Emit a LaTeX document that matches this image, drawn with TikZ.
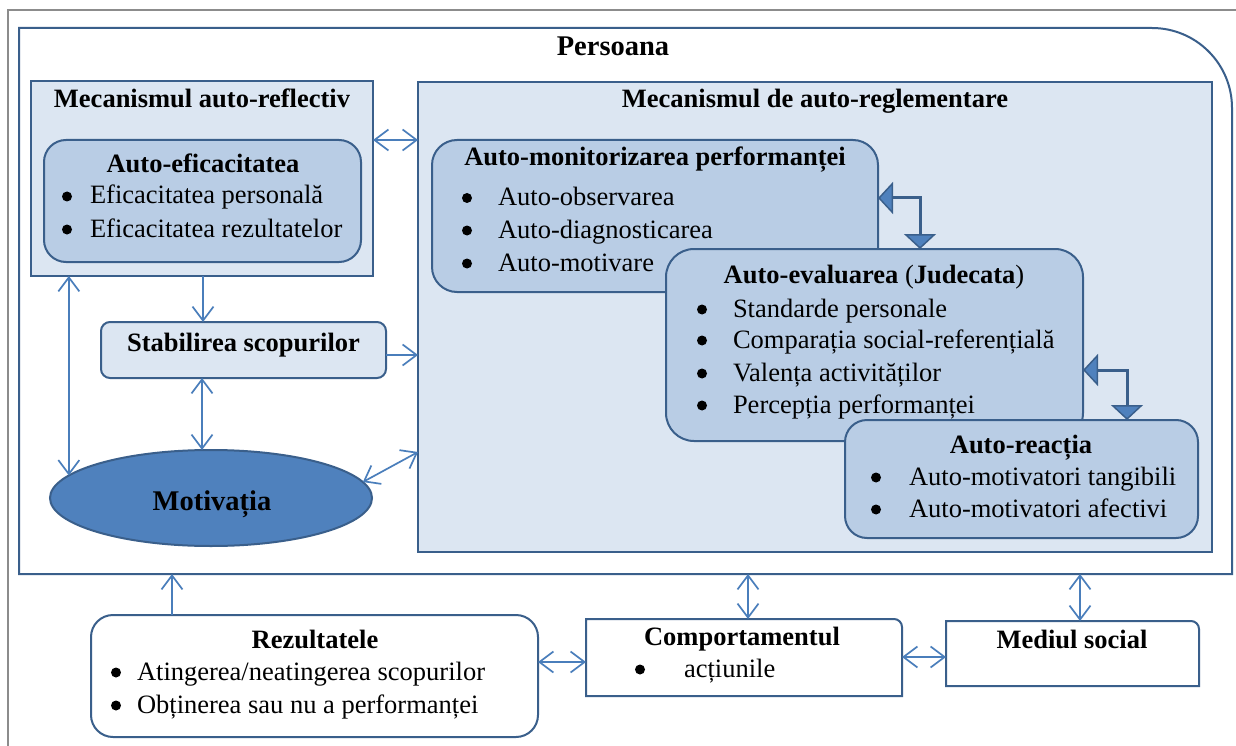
\documentclass[tikz,border=0pt]{standalone}
\usepackage{fontspec}
\setmainfont{Liberation Serif}
\usetikzlibrary{arrows.meta,shapes.geometric,calc}
\definecolor{bordc}{HTML}{3A5F8B}
\definecolor{lightc}{HTML}{DCE6F2}
\definecolor{midc}{HTML}{B9CDE5}
\definecolor{ellc}{HTML}{4F81BD}
\definecolor{arrc}{HTML}{4A7EBB}
\definecolor{framec}{HTML}{8C8C8C}
\newcommand{\fsz}{\fontsize{26.5}{32}\selectfont}
\newcommand{\fbig}{\fontsize{28.5}{34}\selectfont\bfseries}
\begin{document}
\begin{tikzpicture}[x=1pt,y=-1pt,
  every node/.style={inner sep=0pt,outer sep=0pt},
  box/.style={draw=bordc,line width=2pt,anchor=north west,rectangle},
  nobox/.style={draw=none,anchor=north west,rectangle},
  bord/.style={draw=bordc,line width=2pt},
  ttl/.style={anchor=base,font=\fsz\bfseries},
  itm/.style={anchor=base west,font=\fsz},
  dot/.style={circle,fill=black,minimum size=10pt,yshift=7.5pt},
  arr/.style={draw=arrc,line width=1.7pt,-{Straight Barb[length=14pt,width=21pt]}},
  darr/.style={draw=arrc,line width=1.7pt,{Straight Barb[length=14pt,width=21pt]}-{Straight Barb[length=14pt,width=21pt]}},
  blk/.style={draw=bordc,line width=3pt,{Triangle[length=15pt,width=32pt,fill=ellc,line width=1.5pt]}-{Triangle[length=15pt,width=32pt,fill=ellc,line width=1.5pt]}}
]
\useasboundingbox (0,0) rectangle (1236,746);
\fill[white] (0,0) rectangle (1236,746);
% outer gray frame
\draw[framec,line width=1.5pt] (8,760) -- (8,10) -- (1250,10);

% Persoana
\node[nobox,minimum width=1213pt,minimum height=546pt] (pers) at (19,28) {};
\draw[bord] (pers.south west) -- (pers.north west) -- ([xshift=-80pt]pers.north east)
  arc[start angle=90,end angle=0,radius=80pt] -- (pers.south east) -- cycle;

% boxes
\node[box,fill=lightc,minimum width=342pt,minimum height=195pt] (refl) at (31,81) {};
\node[box,fill=midc,rounded corners=22pt,minimum width=317pt,minimum height=122pt] (eff) at (44,140) {};
\node[box,fill=lightc,minimum width=794pt,minimum height=470pt] (regl) at (418,82) {};
\node[box,fill=midc,rounded corners=25pt,minimum width=446pt,minimum height=152pt] (mon) at (432,140) {};
\node[box,fill=midc,rounded corners=28pt,minimum width=417pt,minimum height=192pt] (eva) at (666,249) {};
\node[box,fill=midc,rounded corners=22pt,minimum width=353pt,minimum height=118pt] (rea) at (845,420) {};
\node[box,fill=lightc,rounded corners=9pt,minimum width=285pt,minimum height=56pt] (stab) at (101,322) {};
\node[draw=bordc,line width=2pt,fill=ellc,ellipse,minimum width=322pt,minimum height=96pt] (mot) at (211,498) {};
\node[box,fill=white,rounded corners=22pt,minimum width=447pt,minimum height=122pt] (rez) at (91,615) {};
\node[nobox,minimum width=316pt,minimum height=77pt] (comp) at (586,619) {};
\draw[bord,fill=white] (comp.south west) -- (comp.north west) -- ([xshift=-8pt]comp.north east)
  arc[start angle=90,end angle=0,radius=8pt] -- (comp.south east) -- cycle;
\node[nobox,minimum width=253pt,minimum height=65pt] (med) at (946,621) {};
\draw[bord,fill=white] (med.south west) -- (med.north west) -- ([xshift=-8pt]med.north east)
  arc[start angle=90,end angle=0,radius=8pt] -- (med.south east) -- cycle;

% texts
\node[anchor=base,font=\fbig] (tpers) at (613,56) {Persoana};
\node[ttl] (trefl) at (202,108) {Mecanismul auto-reflectiv};
\node[ttl] (teff) at (203,173) {Auto-eficacitatea};
\node[dot] (b1) at (67,204) {};
\node[itm] (i1) at (90,204) {Eficacitatea personală};
\node[dot] (b2) at (67,237) {};
\node[itm] (i2) at (90,237) {Eficacitatea rezultatelor};

\node[ttl] (tregl) at (815,108) {Mecanismul de auto-reglementare};
\node[ttl] (tmon) at (655,166) {Auto-monitorizarea performanței};
\node[dot] (b3) at (467,205.5) {};
\node[itm] (i3) at (498,205.5) {Auto-observarea};
\node[dot] (b4) at (467,238) {};
\node[itm] (i4) at (498,238) {Auto-diagnosticarea};
\node[dot] (b5) at (467,271) {};
\node[itm] (i5) at (498,271) {Auto-motivare};

\node[anchor=base,font=\fsz] (teva) at (874,283) {\textbf{Auto-evaluarea} (\textbf{Judecata})};
\node[dot] (b6) at (702,317) {};
\node[itm] (i6) at (733,317) {Standarde personale};
\node[dot] (b7) at (702,348) {};
\node[itm] (i7) at (733,348) {Comparația social-referențială};
\node[dot] (b8) at (702,381) {};
\node[itm] (i8) at (733,381) {Valența activităților};
\node[dot] (b9) at (702,413) {};
\node[itm] (i9) at (733,413) {Percepția performanței};

\node[ttl] (trea) at (1021,453) {Auto-reacția};
\node[dot] (b10) at (876,485) {};
\node[itm] (i10) at (909,485) {Auto-motivatori tangibili};
\node[dot] (b11) at (876,517) {};
\node[itm] (i11) at (909,517) {Auto-motivatori afectivi};

\node[ttl] (tstab) at (243.5,351) {Stabilirea scopurilor};
\node[anchor=base,font=\fbig] (tmot) at (212,510) {Motivația};

\node[ttl] (trez) at (315,648) {Rezultatele};
\node[dot] (b12) at (116,680) {};
\node[itm] (i12) at (137,680) {Atingerea/neatingerea scopurilor};
\node[dot] (b13) at (116,713) {};
\node[itm] (i13) at (137,713) {Obținerea sau nu a performanței};

\node[ttl] (tcomp) at (742,645) {Comportamentul};
\node[dot] (b14) at (640,677) {};
\node[itm] (i14) at (684,677) {acțiunile};
\node[ttl] (tmed) at (1072,648) {Mediul social};

% connectors
\coordinate (h1) at (0,140);
\coordinate (v1) at (203,0);
\coordinate (v2) at (202,0);
\coordinate (h2) at (0,355);
\coordinate (h3) at (0,452);
\coordinate (v3) at (172,0);
\coordinate (h4) at (0,662);
\coordinate (v4) at (748,0);
\coordinate (h5) at (0,657);
\coordinate (v5) at (1080,0);
\coordinate (e1) at (920,198);
\coordinate (e2) at (1127,370);

\draw[darr] (refl.east |- h1) -- (regl.west |- h1);
\draw[arr] (refl.south -| v1) -- (stab.north -| v1);
\draw[darr] (stab.south -| v2) -- (mot.north -| v2);
\draw[darr] (mot.171 |- refl.south) -- (mot.171);
\draw[arr] (stab.east |- h2) -- (regl.west |- h2);
\draw[darr] (mot.6) -- (regl.west |- h3);
\draw[arr] (rez.north -| v3) -- (pers.south -| v3);
\draw[darr] (rez.east |- h4) -- (comp.west |- h4);
\draw[darr] (comp.north -| v4) -- (pers.south -| v4);
\draw[darr] (comp.east |- h5) -- (med.west |- h5);
\draw[darr] (med.north -| v5) -- (pers.south -| v5);

\draw[blk] (mon.east |- e1) -| (eva.north -| e1);
\draw[blk] (eva.east |- e2) -| (rea.north -| e2);
\end{tikzpicture}
\end{document}
